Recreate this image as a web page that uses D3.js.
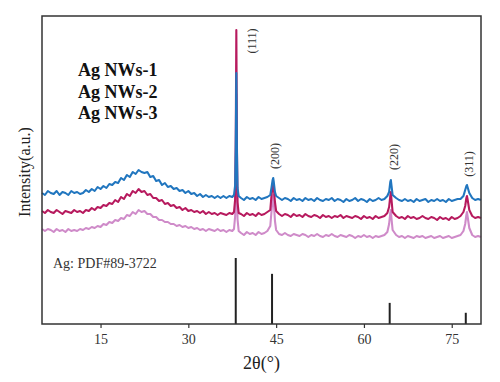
<!DOCTYPE html>
<html>
<head>
<meta charset="utf-8">
<script src="https://cdn.jsdelivr.net/npm/d3@7"></script>
<style>
  html, body { margin: 0; padding: 0; background: #fff; }
  svg { display: block; font-family: "Liberation Serif", "Times New Roman", serif; }
</style>
</head>
<body>
<div id="graph"></div>
<script>
// 2theta grid (coarse baseline, finer around the reflections)
const TWO_THETA = [
  5, 5.5, 6, 6.5, 7, 7.5, 8, 8.5, 9, 9.5, 10, 10.5, 11, 11.5, 12, 12.5, 13, 13.5, 14, 14.5,
  15, 15.5, 16, 16.5, 17, 17.5, 18, 18.5, 19, 19.5, 20, 20.5, 21, 21.5, 22, 22.5, 23, 23.5, 24, 24.5,
  25, 25.5, 26, 26.5, 27, 27.5, 28, 28.5, 29, 29.5, 30, 30.5, 31, 31.5, 32, 32.5, 33, 33.5, 34, 34.5,
  35, 35.5, 36, 36.5, 37, 37.5,
  37.8, 38.0, 38.1, 38.2, 38.3, 38.4, 38.6,
  39, 39.5, 40, 40.5, 41, 41.5, 42, 42.5, 43, 43.5, 44,
  44.2, 44.4, 44.5, 44.6, 44.8,
  45, 45.5, 46, 46.5, 47, 47.5, 48, 48.5, 49, 49.5, 50, 50.5, 51, 51.5, 52, 52.5, 53, 53.5, 54, 54.5,
  55, 55.5, 56, 56.5, 57, 57.5, 58, 58.5, 59, 59.5, 60, 60.5, 61, 61.5, 62, 62.5, 63, 63.5, 64,
  64.3, 64.5, 64.6, 64.7, 64.9,
  65.5, 66, 66.5, 67, 67.5, 68, 68.5, 69, 69.5, 70, 70.5, 71, 71.5, 72, 72.5, 73, 73.5, 74, 74.5, 75,
  75.5, 76, 76.5, 77,
  77.3, 77.5, 77.6, 77.7, 78.0,
  78.5, 79, 79.5, 80
];

// intensities (a.u.)
const NWS_1 = [
  131, 129, 133, 131, 130, 133, 129, 132, 131, 129, 133, 131, 132, 130, 131, 134, 132, 135, 133, 137,
  135, 138, 136, 140, 139, 142, 141, 146, 144, 149, 147, 152, 150, 154, 152, 151, 152, 147, 148, 143,
  144, 139, 141, 137, 138, 135, 136, 133, 134, 131, 133, 130, 131, 128, 130, 127, 129, 127, 128, 126,
  128, 126, 128, 126, 128, 127,
  129, 139, 174, 251, 174, 136, 128,
  126, 124, 127, 125, 126, 124, 127, 125, 126, 127, 129,
  136, 144, 146, 142, 132,
  128, 126, 124, 126, 125, 123, 126, 124, 125, 123, 126, 124, 125, 123, 126, 124, 123, 125, 124, 126,
  123, 125, 124, 122, 125, 123, 124, 126, 123, 125, 124, 122, 125, 123, 124, 126, 124, 125, 128,
  132, 142, 144, 139, 129,
  126, 124, 123, 125, 123, 124, 122, 125, 123, 124, 125, 122, 124, 123, 125, 123, 124, 122, 125, 123,
  124, 125, 125, 128,
  134, 138, 139, 137, 131,
  126, 124, 125, 124
];

const NWS_2 = [
  113, 111, 114, 112, 111, 114, 112, 110, 113, 112, 111, 114, 112, 113, 111, 114, 113, 116, 114, 117,
  116, 119, 118, 121, 120, 124, 122, 127, 125, 130, 128, 133, 131, 135, 132, 133, 129, 130, 126, 126,
  123, 124, 120, 121, 118, 119, 116, 117, 114, 116, 113, 114, 112, 113, 111, 113, 110, 112, 110, 111,
  109, 111, 110, 109, 111, 110,
  112, 125, 180, 294, 180, 122, 111,
  110, 108, 111, 109, 110, 108, 111, 109, 110, 112, 114,
  128, 138, 141, 136, 122,
  113, 110, 108, 110, 109, 107, 110, 108, 109, 107, 110, 108, 107, 109, 108, 106, 109, 107, 108, 106,
  108, 107, 109, 106, 108, 107, 106, 108, 107, 105, 108, 106, 107, 105, 108, 106, 107, 108, 111,
  117, 128, 132, 125, 112,
  108, 106, 107, 105, 108, 106, 107, 105, 106, 108, 106, 105, 107, 106, 104, 107, 105, 106, 104, 107,
  105, 106, 108, 112,
  118, 126, 128, 125, 114,
  108, 106, 107, 106
];

const NWS_3 = [
  95, 93, 95, 94, 92, 95, 93, 94, 92, 95, 93, 94, 93, 95, 94, 96, 95, 97, 96, 98,
  97, 100, 99, 102, 101, 104, 103, 106, 105, 109, 108, 112, 110, 114, 112, 113, 110, 110, 107, 107,
  104, 104, 102, 102, 100, 100, 98, 99, 97, 98, 96, 97, 95, 96, 94, 95, 93, 95, 94, 93,
  95, 93, 94, 92, 94, 93,
  95, 108, 160, 230, 160, 105, 93,
  91, 89, 92, 90, 91, 89, 92, 90, 91, 93, 98,
  112, 126, 129, 122, 103,
  94, 90, 89, 91, 89, 88, 90, 89, 88, 90, 89, 87, 89, 88, 90, 88, 87, 89, 88, 90,
  88, 87, 89, 88, 87, 89, 88, 86, 88, 87, 89, 87, 88, 86, 88, 87, 88, 89, 92,
  100, 111, 114, 106, 94,
  89, 87, 88, 86, 88, 87, 86, 88, 87, 88, 86, 87, 88, 86, 87, 88, 86, 87, 88, 86,
  87, 88, 89, 93,
  100, 109, 112, 108, 96,
  89, 87, 88, 87
];

const SERIES_NAMES = ['Ag NWs-1', 'Ag NWs-2', 'Ag NWs-3'];
const SERIES_COLORS = ['#2176bf', '#b71a5e', '#cf8bc9'];

// standard card Ag: PDF#89-3722
const PDF_POS = [38.1, 44.3, 64.4, 77.4];
const PDF_REL = [100, 76, 32, 17];

// hkl labels: centre of each label in (2theta, intensity)
const PEAK_LABELS = ['(111)', '(200)', '(220)', '(311)'];
const PEAK_LABEL_POS = [40.9, 44.8, 65.2, 77.9];
const PEAK_LABEL_Y = [283, 168, 167, 160];

const X_TICKS = [15, 30, 45, 60, 75];

const WIDTH = 500;
const HEIGHT = 382;
const margin = {top: 16, right: 19, bottom: 58, left: 42};

const svg = d3.select('#graph')
  .append('svg')
    .attr('width', WIDTH)
    .attr('height', HEIGHT);

const x = d3.scaleLinear()
  .domain([5, 80])
  .range([margin.left, WIDTH - margin.right]);

const y = d3.scaleLinear()
  .domain([0, 308])
  .range([HEIGHT - margin.bottom, margin.top]);

// the stick pattern lives at the bottom of the frame
const yRef = d3.scaleLinear()
  .domain([0, 100])
  .range([HEIGHT - margin.bottom, HEIGHT - margin.bottom - 66]);

const series = [NWS_1, NWS_2, NWS_3];

const line = d3.line()
  .x(d => x(d[0]))
  .y(d => y(d[1]));

// draw bottom sample first so NWs-1 ends up on top
svg.append('g')
  .selectAll('path')
  .data(d3.range(series.length).reverse())
  .join('path')
    .attr('fill', 'none')
    .attr('stroke', i => SERIES_COLORS[i])
    .attr('stroke-width', 2.1)
    .attr('stroke-linejoin', 'round')
    .attr('d', i => line(d3.zip(TWO_THETA, series[i])));

svg.append('g')
  .selectAll('line')
  .data(PDF_POS)
  .join('line')
    .attr('x1', d => x(d))
    .attr('x2', d => x(d))
    .attr('y1', yRef(0))
    .attr('y2', (d, i) => yRef(PDF_REL[i]))
    .attr('stroke', '#222')
    .attr('stroke-width', 2);

// x axis, ticks pointing out
svg.append('g')
  .attr('transform', `translate(0,${HEIGHT - margin.bottom})`)
  .call(d3.axisBottom(x).tickValues(X_TICKS).tickSize(4).tickPadding(6))
  .call(g => g.select('.domain').remove())
  .call(g => g.selectAll('.tick line').attr('stroke', '#333').attr('stroke-width', 1.2))
  .call(g => g.selectAll('.tick text')
    .attr('fill', '#333')
    .attr('font-size', 14)
    .attr('font-family', '"Liberation Serif", serif'));

// frame
svg.append('rect')
  .attr('x', margin.left)
  .attr('y', margin.top)
  .attr('width', WIDTH - margin.left - margin.right)
  .attr('height', HEIGHT - margin.top - margin.bottom)
  .attr('fill', 'none')
  .attr('stroke', '#333')
  .attr('stroke-width', 1.5);

svg.append('text')
  .attr('x', (margin.left + WIDTH - margin.right) / 2)
  .attr('y', 369)
  .attr('text-anchor', 'middle')
  .attr('font-size', 18)
  .attr('fill', '#222')
  .text('2θ(°)');

svg.append('text')
  .attr('transform', `translate(30,${172}) rotate(-90)`)
  .attr('text-anchor', 'middle')
  .attr('font-size', 16)
  .attr('fill', '#222')
  .text('Intensity(a.u.)');

svg.append('g')
  .selectAll('text')
  .data(SERIES_NAMES)
  .join('text')
    .attr('x', 78)
    .attr('y', (d, i) => 76 + i * 21.5)
    .attr('font-size', 18)
    .attr('font-weight', 'bold')
    .attr('fill', '#111')
    .text(d => d);

svg.append('g')
  .selectAll('text')
  .data(PEAK_LABELS)
  .join('text')
    .attr('transform', (d, i) => `translate(${x(PEAK_LABEL_POS[i]) + 4},${y(PEAK_LABEL_Y[i])}) rotate(-90)`)
    .attr('text-anchor', 'middle')
    .attr('font-size', 12)
    .attr('fill', '#333')
    .text(d => d);

svg.append('text')
  .attr('x', 53)
  .attr('y', 268)
  .attr('font-size', 14)
  .attr('fill', '#333')
  .text('Ag: PDF#89-3722');
</script>
</body>
</html>
